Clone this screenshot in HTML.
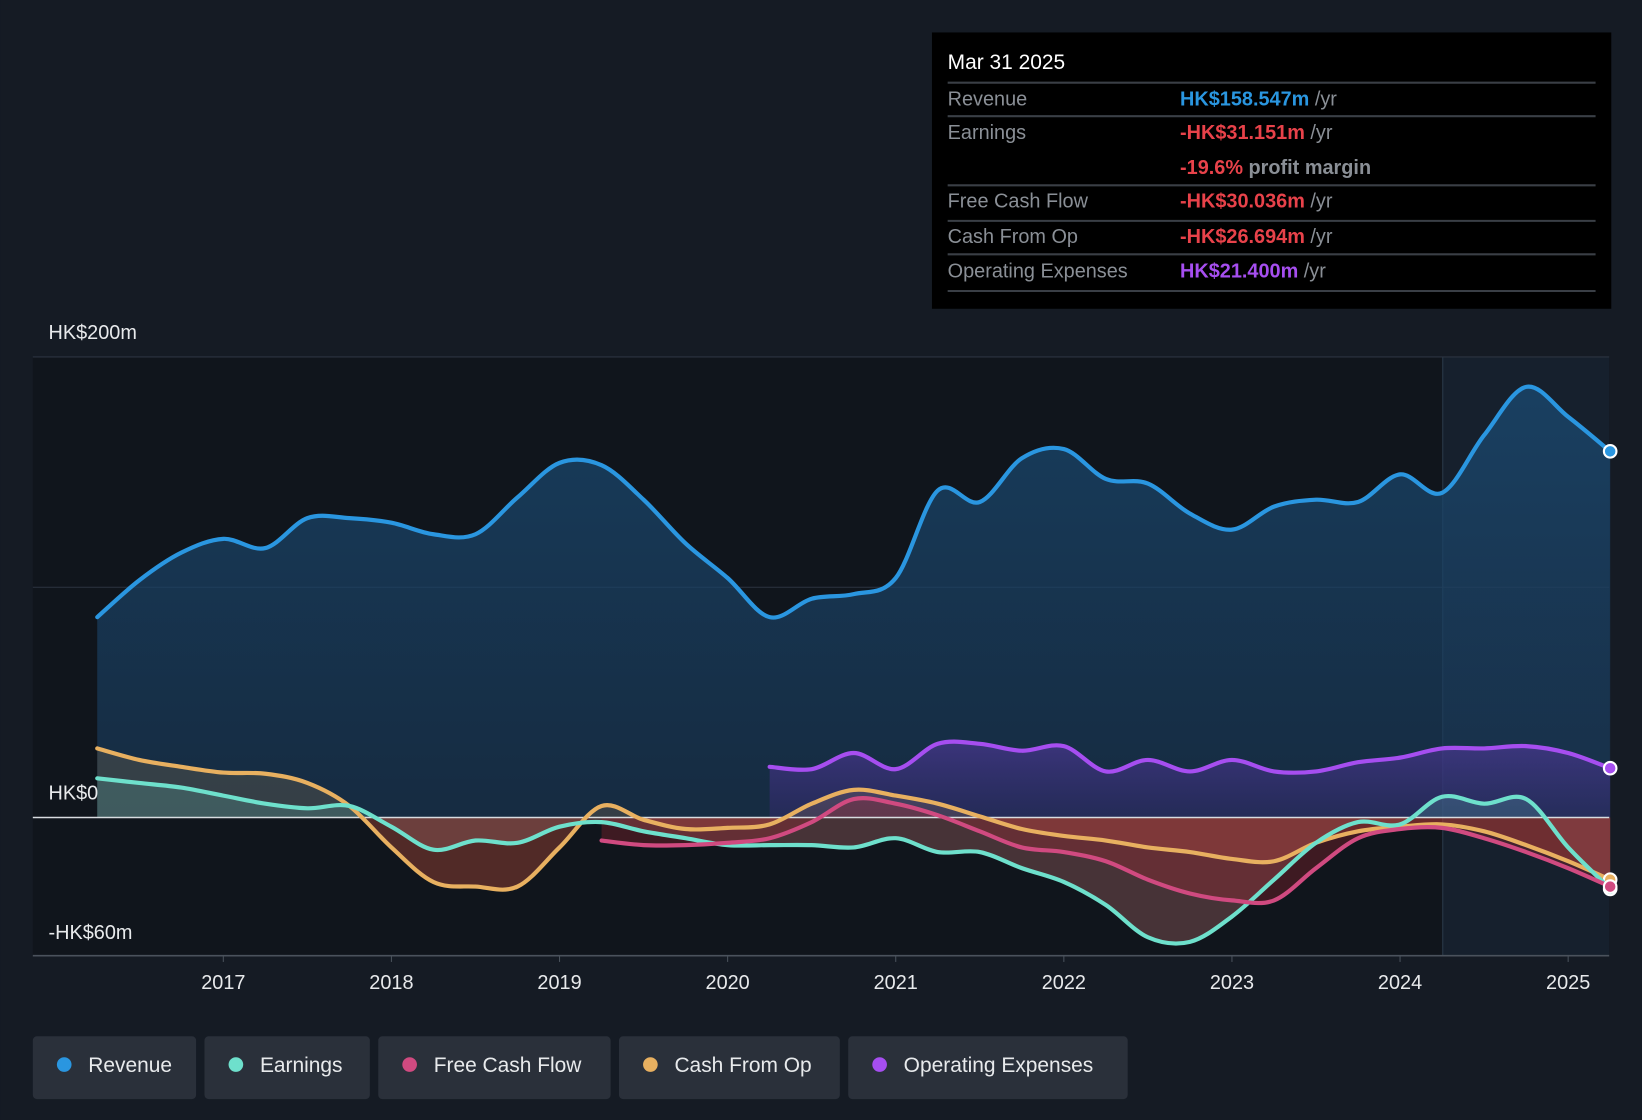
<!DOCTYPE html>
<html><head><meta charset="utf-8"><style>
html,body{margin:0;padding:0;background:#151b24;width:1642px;height:1120px;overflow:hidden}
svg{display:block;font-family:"Liberation Sans",sans-serif}
</style></head><body>
<svg id="chart" width="1642" height="1120" viewBox="0 0 1568 1070">
<defs>
<linearGradient id="revG" x1="0" y1="0" x2="0" y2="1"><stop offset="0" stop-color="#1a4a72" stop-opacity="0.75"/><stop offset="1" stop-color="#1a3a5a" stop-opacity="0.6"/></linearGradient>
<linearGradient id="opG" x1="0" y1="0" x2="0" y2="1"><stop offset="0" stop-color="#5a3aa8" stop-opacity="0.55"/><stop offset="1" stop-color="#3a2a78" stop-opacity="0.4"/></linearGradient>
</defs>
<rect x="0" y="0" width="1568" height="1070" fill="#151b24"/>
<rect x="31" y="341" width="1506" height="572" fill="#10151c"/>
<rect x="1378" y="341" width="159" height="572" fill="#1a2838" opacity="0.6"/>
<line x1="1378" y1="341" x2="1378" y2="913" stroke="#2a3a4a" stroke-width="1"/>
<g id="grid"></g>
<g id="series"></g>
<g id="axes"></g>
<g>
<rect x="890" y="31" width="649" height="264" fill="#000"/>
<text x="905" y="66" fill="#fff" font-size="20">Mar 31 2025</text>
<g stroke="#3a3f46" stroke-width="2">
<line x1="905" y1="79" x2="1524" y2="79"/><line x1="905" y1="111" x2="1524" y2="111"/><line x1="905" y1="177" x2="1524" y2="177"/><line x1="905" y1="211" x2="1524" y2="211"/><line x1="905" y1="243" x2="1524" y2="243"/><line x1="905" y1="278" x2="1524" y2="278"/></g>
<g font-size="19" fill="#8a8f96">
<text x="905" y="101">Revenue</text><text x="905" y="133">Earnings</text><text x="905" y="198">Free Cash Flow</text><text x="905" y="232">Cash From Op</text><text x="905" y="265">Operating Expenses</text></g>
<g font-size="19" font-weight="bold">
<text x="1127" y="101"><tspan fill="#2a96e0">HK$158.547m</tspan><tspan fill="#8a8f96" font-weight="normal"> /yr</tspan></text>
<text x="1127" y="133"><tspan fill="#e8424a">-HK$31.151m</tspan><tspan fill="#8a8f96" font-weight="normal"> /yr</tspan></text>
<text x="1127" y="166"><tspan fill="#e8424a">-19.6%</tspan><tspan fill="#8a8f96"> profit margin</tspan></text>
<text x="1127" y="198"><tspan fill="#e8424a">-HK$30.036m</tspan><tspan fill="#8a8f96" font-weight="normal"> /yr</tspan></text>
<text x="1127" y="232"><tspan fill="#e8424a">-HK$26.694m</tspan><tspan fill="#8a8f96" font-weight="normal"> /yr</tspan></text>
<text x="1127" y="265"><tspan fill="#a64ef0">HK$21.400m</tspan><tspan fill="#8a8f96" font-weight="normal"> /yr</tspan></text></g>
</g>
<g id="legend"></g>
</svg>
<script>
const years=["2017","2018","2019","2020","2021","2022","2023","2024","2025"];
const yTickVals=[200,0,-60];
const yTickLabels=["HK$200m","HK$0","-HK$60m"];
const revenue=[87,103,115,121,117,130,130,128,123,123,139,154,153,138,119,104,87,95,97,104,142,137,156,160,147,145,132,125,135,138,137,149,141,166,187,174,159];
const revenueStart=2016.25;
const earnings=[17,15,13,9.5,6,4,5,-4,-14,-10,-11,-4,-2,-6,-9,-12,-12,-12,-13,-9,-15,-15,-22,-28,-38,-52,-54,-43,-27,-11,-2,-3,9,6,8,-13,-31];
const earningsStart=2016.25;
const fcf=[-10,-12,-12,-11,-9,-2,8,6,1,-6,-13,-15,-19,-27,-33,-36,-36,-22,-9,-5,-4.5,-9,-15,-22,-30];
const fcfStart=2019.25;
const cfo=[30,25,22,19.5,19,15,5,-13,-28,-30,-30,-13,5,-1,-5,-4.5,-3,6,12,9.5,6,0.5,-5,-8,-10,-13,-15,-18,-19,-11,-6,-4,-3,-6,-12,-19,-27];
const cfoStart=2016.25;
const opex=[22,21,28,21,32,32,29,31,20,25,20,25,20,20,24,26,30,30,31,28,21.4];
const opexStart=2020.25;

const X=t=>213+(t-2017)*160.6;
const Y=v=>781-v*2.2;
const NS="http://www.w3.org/2000/svg";
function mk(tag,attrs,parent){const e=document.createElementNS(NS,tag);for(const k in attrs)e.setAttribute(k,attrs[k]);parent.appendChild(e);return e;}
function pts(arr,start){return arr.map((v,i)=>[X(start+i*0.25),Y(v)]);}
function smooth(p){let d=`M${p[0][0]},${p[0][1]}`;for(let i=0;i<p.length-1;i++){const p0=p[i-1]||p[i],p1=p[i],p2=p[i+1],p3=p[i+2]||p2;const c1=[p1[0]+(p2[0]-p0[0])/6,p1[1]+(p2[1]-p0[1])/6],c2=[p2[0]-(p3[0]-p1[0])/6,p2[1]-(p3[1]-p1[1])/6];d+=` C${c1[0]},${c1[1]} ${c2[0]},${c2[1]} ${p2[0]},${p2[1]}`;}return d;}
function area(p){return smooth(p)+` L${p[p.length-1][0]},${Y(0)} L${p[0][0]},${Y(0)} Z`;}

const grid=document.getElementById('grid');
[200,100].forEach(v=>{const l=mk('line',{x1:31,x2:1537,y1:Y(v),y2:Y(v),stroke:'#2c3440','stroke-width':1},grid);

});

const S=document.getElementById('series');
const series=[
 {n:'revenue',a:revenue,s:revenueStart,c:'#2a96e0',f:'url(#revG)'},
 {n:'operating-expenses',a:opex,s:opexStart,c:'#a64ef0',f:'url(#opG)'},
 {n:'cash-from-op',a:cfo,s:cfoStart,c:'#e8b060',f:'rgba(150,60,60,0.25)'},
 {n:'earnings',a:earnings,s:earningsStart,c:'#6ee0cc',f:'rgba(140,40,40,0.3)'},
 {n:'free-cash-flow',a:fcf,s:fcfStart,c:'#d04a80',f:'rgba(170,40,50,0.3)'}
];
series.forEach(sr=>{const p=pts(sr.a,sr.s);
 const ar=mk('path',{d:area(p),fill:sr.f,stroke:'none'},S);
 
 
 if(sr.n==='earnings'||sr.n==='cash-from-op'){ar.setAttribute('fill',sr.n==='earnings'?'rgba(110,224,204,0.18)':'rgba(232,176,96,0.15)');
  const neg=mk('path',{d:area(p),fill:'rgba(160,40,45,0.3)','clip-path':'url(#below)'},S);
  
  }
});
const cp=mk('clipPath',{id:'below'},document.querySelector('defs'));mk('rect',{x:0,y:Y(0),width:1568,height:200},cp);
mk('line',{x1:31,x2:1537,y1:Y(0),y2:Y(0),stroke:'#d8dce0','stroke-width':1.5},S);
series.forEach(sr=>{const p=pts(sr.a,sr.s);
 const ln=mk('path',{d:smooth(p),fill:'none',stroke:sr.c,'stroke-width':4,'stroke-linecap':'round'},S);
 
 
 const e=p[p.length-1];
 const dot=mk('circle',{cx:e[0],cy:e[1],r:6,fill:sr.c,stroke:'#fff','stroke-width':2},S);
 
 
});

const A=document.getElementById('axes');
mk('line',{x1:31,x2:1537,y1:913,y2:913,stroke:'#4a525c','stroke-width':1.5},A);
years.forEach(y=>{const x=X(+y);mk('line',{x1:x,x2:x,y1:913,y2:919,stroke:'#4a525c'},A);
 const t=mk('text',{x:x,y:945,fill:'#e8eaec','font-size':19,'text-anchor':'middle'},A);t.textContent=y;
 
 });
yTickVals.forEach((v,i)=>{const t=mk('text',{x:46,y:Y(v)-17,fill:'#e8eaec','font-size':19},A);t.textContent=yTickLabels[i];
 if(v===-60)t.setAttribute('y',Y(v)-16);
 
 });

const L=document.getElementById('legend');
const items=[['Revenue','#2a96e0',31,156],['Earnings','#6ee0cc',195,158],['Free Cash Flow','#d04a80',361,222],['Cash From Op','#e8b060',591,211],['Operating Expenses','#a64ef0',810,267]];
items.forEach(it=>{const g=mk('g',{},L);
 
 
 mk('rect',{x:it[2],y:990,width:it[3],height:60,rx:4,fill:'#2a303a'},g);
 mk('circle',{cx:it[2]+30,cy:1017,r:7,fill:it[1]},g);
 const t=mk('text',{x:it[2]+53,y:1024,fill:'#e8eaec','font-size':20},g);t.textContent=it[0];});
</script>
</body></html>
